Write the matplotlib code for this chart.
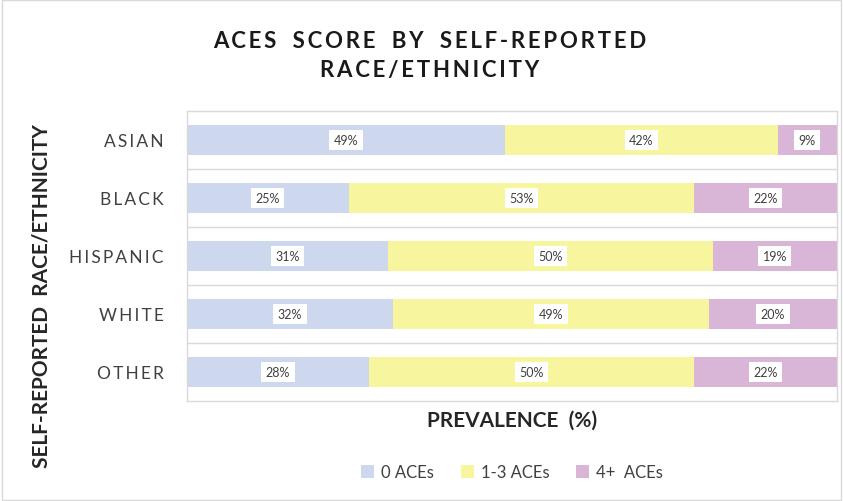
import matplotlib
matplotlib.use("Agg")
import matplotlib.pyplot as plt
import numpy as np

categories = ["ASIAN", "BLACK", "HISPANIC", "WHITE", "OTHER"]
series_names = ["0 ACEs", "1-3 ACEs", "4+  ACEs"]
zero_aces = [48.9, 24.9, 30.9, 31.7, 28.0]
one_three_aces = [42.0, 53.1, 50.0, 48.6, 50.0]
four_plus_aces = [9.1, 22.0, 19.1, 19.7, 22.0]
colors = ["#CDD8EE", "#F8F59F", "#D9B5D8"]

plt.rcParams['font.family'] = ['Lato', 'DejaVu Sans']

THIN = "\u2009"


def spaced(s):
    return THIN.join(s)


fig = plt.figure(figsize=(8.43, 5.02), dpi=100)
ax = fig.add_axes([187/843, 1-402/502, 650/843, 290/502])

y = np.arange(len(categories))
left = np.zeros(len(categories))
for vals, name, c in zip([zero_aces, one_three_aces, four_plus_aces], series_names, colors):
    vals = np.array(vals, dtype=float)
    ax.barh(y, vals, left=left, height=0.52, color=c, label=name, zorder=2)
    for yi, l, v in zip(y, left, vals):
        ax.text(l + v/2, yi, f"{v:.0f}%", ha="center", va="center", fontsize=9,
                color="#404040", zorder=3,
                bbox=dict(boxstyle="square,pad=0.35", fc="white", ec="none"))
    left += vals

ax.set_xlim(0, 100)
ax.set_ylim(len(categories)-0.5, -0.5)
ax.set_yticks(y)
ax.set_yticklabels([spaced(c) for c in categories], fontsize=12.5, color="#404040")
ax.tick_params(axis="y", length=0, pad=17)
ax.set_xticks([])
for b in np.arange(0.5, len(categories)-0.5, 1):
    ax.axhline(b, color="#D9D9D9", lw=1, zorder=1)
for s in ax.spines.values():
    s.set_color("#D9D9D9")
    s.set_linewidth(1)

ax.set_xlabel("PREVALENCE  (%)", fontsize=15, fontweight="bold", color="#262626", labelpad=6)
fig.text(42/843, 1-296/502, "SELF-REPORTED  RACE/ETHNICITY", rotation=90, ha="center",
         va="center", fontsize=15, fontweight="bold", color="#262626")
word_sep = THIN + "  " + THIN
title = "\n".join(word_sep.join(spaced(w) for w in line.split(" "))
                  for line in ["ACES SCORE BY SELF-REPORTED", "RACE/ETHNICITY"])
fig.text(430/843, 1-56/502, title, ha="center",
         va="center", fontsize=16, fontweight="bold", color="#1a1a1a", linespacing=1.45)

fig.legend(loc="center", bbox_to_anchor=(512/843, 1-473/502), ncol=3, frameon=False,
           fontsize=12, handlelength=0.8, handleheight=0.8, handletextpad=0.4,
           columnspacing=1.6, labelcolor="#404040")

fig.patches.append(plt.Rectangle((0.002, 0.002), 0.996, 0.996, transform=fig.transFigure,
                                 fill=False, ec="#D9D9D9", lw=1))

fig.savefig("out.png", dpi=100)
